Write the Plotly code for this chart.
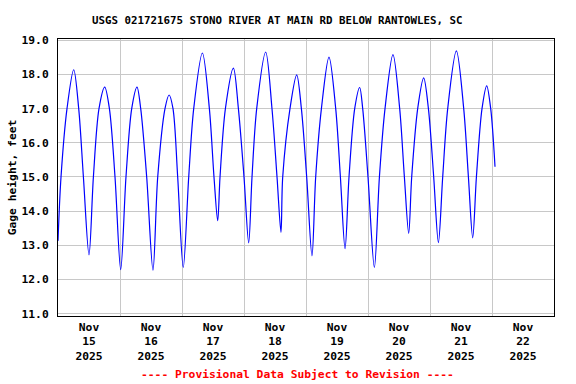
import plotly.graph_objects as go

# Gage height readings (extremes plus 15.0 / 17.0 ft crossings)
times = [
    "2025-11-15 00:00", "2025-11-15 01:10", "2025-11-15 03:29", "2025-11-15 06:05",
    "2025-11-15 08:01", "2025-11-15 09:50", "2025-11-15 12:00", "2025-11-15 13:42",
    "2025-11-15 15:52", "2025-11-15 18:05", "2025-11-15 19:54", "2025-11-15 22:04",
    "2025-11-16 00:16", "2025-11-16 02:19", "2025-11-16 04:32", "2025-11-16 06:35",
    "2025-11-16 08:01", "2025-11-16 10:20", "2025-11-16 12:46", "2025-11-16 14:36",
    "2025-11-16 17:25", "2025-11-16 19:00", "2025-11-16 20:31", "2025-11-16 22:20",
    "2025-11-17 00:29", "2025-11-17 02:36", "2025-11-17 04:32", "2025-11-17 07:54",
    "2025-11-17 10:36", "2025-11-17 12:23", "2025-11-17 13:49", "2025-11-17 14:43",
    "2025-11-17 16:48", "2025-11-17 19:54", "2025-11-17 21:50", "2025-11-18 00:00",
    "2025-11-18 01:49", "2025-11-18 03:06", "2025-11-18 04:55", "2025-11-18 08:24",
    "2025-11-18 10:50", "2025-11-18 12:47", "2025-11-18 14:19", "2025-11-18 14:59",
    "2025-11-18 17:48", "2025-11-18 20:24", "2025-11-18 22:13", "2025-11-19 00:16",
    "2025-11-19 02:19", "2025-11-19 03:45", "2025-11-19 05:58", "2025-11-19 08:54",
    "2025-11-19 11:30", "2025-11-19 13:19", "2025-11-19 15:07", "2025-11-19 16:39",
    "2025-11-19 18:51", "2025-11-19 20:47", "2025-11-19 21:57", "2025-11-20 00:00",
    "2025-11-20 02:28", "2025-11-20 04:25", "2025-11-20 06:35", "2025-11-20 09:40",
    "2025-11-20 12:16", "2025-11-20 14:05", "2025-11-20 15:45", "2025-11-20 16:55",
    "2025-11-20 19:14", "2025-11-20 21:33", "2025-11-20 23:23", "2025-11-21 01:26",
    "2025-11-21 03:15", "2025-11-21 04:55", "2025-11-21 06:51", "2025-11-21 10:13",
    "2025-11-21 13:03", "2025-11-21 14:52", "2025-11-21 16:32", "2025-11-21 17:58",
    "2025-11-21 20:08", "2025-11-21 21:57", "2025-11-21 23:30", "2025-11-22 01:10",
]
gage_ft = [
    13.13, 15.00, 17.00, 18.14,
    17.00, 15.00, 12.72, 15.00,
    17.00, 17.63, 17.00, 15.00,
    12.29, 15.00, 17.00, 17.63,
    17.00, 15.00, 12.27, 15.00,
    17.00, 17.40, 17.00, 15.00,
    12.35, 15.00, 17.00, 18.63,
    17.00, 15.00, 13.72, 15.00,
    17.00, 18.19, 17.00, 15.00,
    13.07, 15.00, 17.00, 18.66,
    17.00, 15.00, 13.38, 15.00,
    17.00, 17.99, 17.00, 15.00,
    12.69, 15.00, 17.00, 18.51,
    17.00, 15.00, 12.90, 15.00,
    17.00, 17.62, 17.00, 15.00,
    12.35, 15.00, 17.00, 18.58,
    17.00, 15.00, 13.35, 15.00,
    17.00, 17.90, 17.00, 15.00,
    13.08, 15.00, 17.00, 18.69,
    17.00, 15.00, 13.22, 15.00,
    17.00, 17.67, 17.00, 15.30,
]

tick_dates = ["2025-11-15 12:00", "2025-11-16 12:00", "2025-11-17 12:00", "2025-11-18 12:00",
              "2025-11-19 12:00", "2025-11-20 12:00", "2025-11-21 12:00", "2025-11-22 12:00"]
tick_labels = ["Nov<br>15<br>2025", "Nov<br>16<br>2025", "Nov<br>17<br>2025", "Nov<br>18<br>2025",
               "Nov<br>19<br>2025", "Nov<br>20<br>2025", "Nov<br>21<br>2025", "Nov<br>22<br>2025"]
y_ticks = [11, 12, 13, 14, 15, 16, 17, 18, 19]
y_labels = ["11.0", "12.0", "13.0", "14.0", "15.0", "16.0", "17.0", "18.0", "19.0"]

title_text = "USGS 021721675 STONO RIVER AT MAIN RD BELOW RANTOWLES, SC"
note_text = "---- Provisional Data Subject to Revision ----"

FONT = "DejaVu Sans Mono"

fig = go.Figure()
fig.add_trace(go.Scatter(
    x=times, y=gage_ft, mode="lines",
    line=dict(color="#0000FF", width=1.2, shape="spline", smoothing=0.9),
    showlegend=False,
))

fig.update_layout(
    width=576, height=384,
    margin=dict(l=58.3, r=21.7, t=39.3, b=68.3, autoexpand=False),
    paper_bgcolor="white", plot_bgcolor="white",
    font=dict(family=FONT, size=11.3, color="black", weight="bold"),
    xaxis=dict(
        type="date",
        range=["2025-11-15 00:00", "2025-11-23 00:00"],
        tickvals=tick_dates, ticktext=tick_labels,
        showgrid=False, ticks="",
        minor=dict(dtick=86400000, tick0="2025-11-15", showgrid=True,
                   gridcolor="#C8C8C8", gridwidth=1, ticks=""),
        showline=True, linecolor="black", linewidth=1, mirror=True,
        zeroline=False, automargin=False,
        tickfont=dict(family=FONT, size=11.3, color="black", weight="bold"),
    ),
    yaxis=dict(
        range=[10.93, 19.04],
        tickvals=y_ticks, ticktext=y_labels,
        showgrid=True, gridcolor="#C8C8C8", gridwidth=1,
        showline=True, linecolor="black", linewidth=1, mirror=True,
        zeroline=False, ticks="", ticklabelstandoff=6, automargin=False,
        tickfont=dict(family=FONT, size=11.3, color="black", weight="bold"),
        title=dict(text="Gage height, feet", standoff=2,
                   font=dict(family=FONT, size=11.3, color="black", weight="bold")),
    ),
    annotations=[
        dict(text=title_text, xref="paper", yref="paper", x=(278 - 58.3) / 496.0,
             y=1 + (39.3 - 20.5) / 276.4, xanchor="center", yanchor="middle",
             showarrow=False,
             font=dict(family=FONT, size=10.8, color="black", weight="bold")),
        dict(text=note_text, xref="paper", yref="paper", x=(298 - 58.3) / 496.0,
             y=-(374 - 315.7) / 276.4, xanchor="center", yanchor="middle",
             showarrow=False,
             font=dict(family=FONT, size=11.3, color="#FF0000", weight="bold")),
    ],
)

fig.write_html("out.html", config={"displayModeBar": False},
               post_script="document.body.style.margin='0px';document.body.style.overflow='hidden';")
